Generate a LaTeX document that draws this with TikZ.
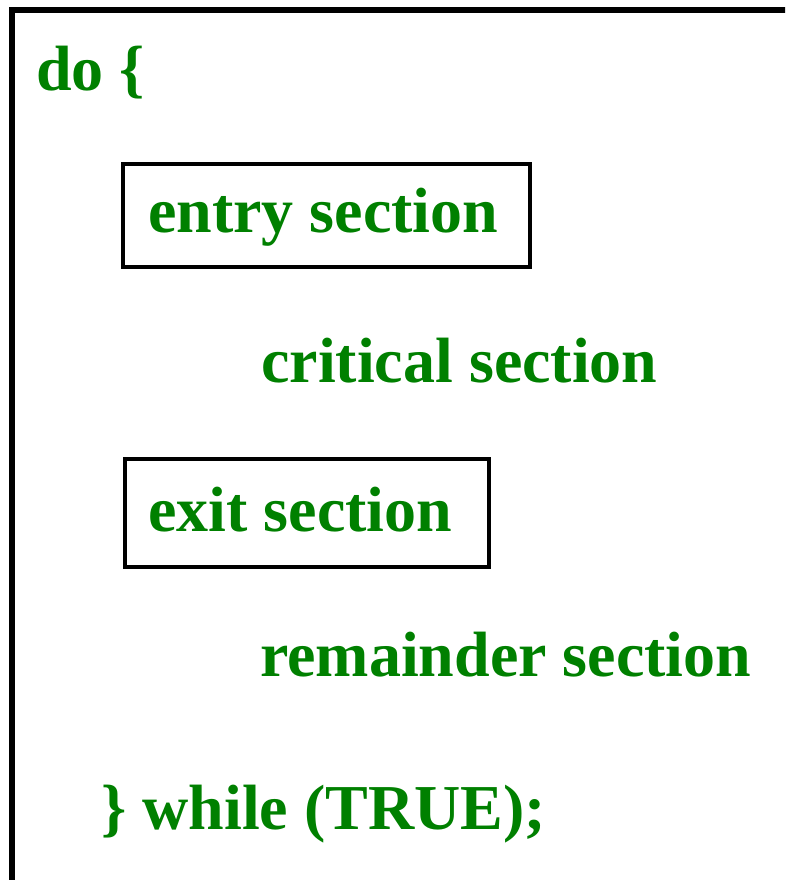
\documentclass[tikz,border=0pt]{standalone}
\usepackage{fontspec}
\setmainfont{Liberation Serif}
\definecolor{codegreen}{HTML}{008000}
\begin{document}
\begin{tikzpicture}[x=1pt,y=1pt,
  codetext/.style={anchor=base west, inner sep=0pt, text=codegreen,
    font=\fontsize{64}{70}\selectfont\bfseries},
  framebox/.style={draw=black, line width=3.5pt, inner sep=0pt}]
\useasboundingbox (0,0) rectangle (785,880);
\clip (0,0) rectangle (785,880);
% outer frame (extends beyond right and bottom edges)
\draw[line width=6pt] (12,-30) -- (12,870) -- (830,870);
% boxes
\node[framebox, minimum width=407pt, minimum height=103pt] (entrybox) at (326.5,664.5) {};
\node[framebox, minimum width=364pt, minimum height=108pt] (exitbox) at (307,367) {};
% texts
\node[codetext] (do) at (36,789) {do \{};
\node[codetext] (entry) at (148,647) {entry section};
\node[codetext] (crit) at (261,497) {critical section};
\node[codetext] (exit) at (148,348) {exit section};
\node[codetext] (rem) at (260,203) {remainder section};
\node[codetext] (while) at (101,50) {\} while (TRUE);};
\end{tikzpicture}
\end{document}
